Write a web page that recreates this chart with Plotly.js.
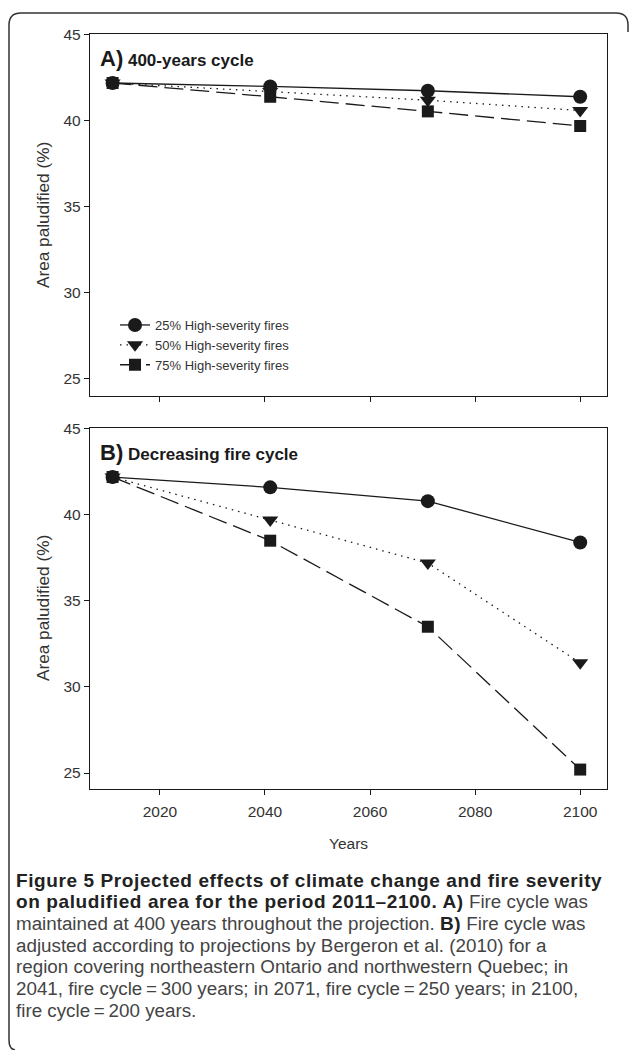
<!DOCTYPE html>
<html>
<head>
<meta charset="utf-8">
<script src="https://cdn.plot.ly/plotly-3.0.1.min.js"></script>
<style>
  html, body { margin: 0; padding: 0; background: #fff; }
  #chart { width: 629px; height: 1050px; }
</style>
</head>
<body>
<div id="chart"></div>
<script>
// ---- data ----
const years = [2011, 2041, 2071, 2100];
const seriesNames = ["25% High-severity fires", "50% High-severity fires", "75% High-severity fires"];
const panelA_25 = [42.2, 42.0, 41.75, 41.4];
const panelA_50 = [42.2, 41.7, 41.2, 40.6];
const panelA_75 = [42.2, 41.4, 40.55, 39.7];
const panelB_25 = [42.2, 41.6, 40.8, 38.4];
const panelB_50 = [42.2, 39.7, 37.2, 31.4];
const panelB_75 = [42.2, 38.5, 33.5, 25.2];
const xTicks = [2020, 2040, 2060, 2080, 2100];
const yTicks = [25, 30, 35, 40, 45];
const panelTitles = ["400-years cycle", "Decreasing fire cycle"];
const panelLetters = ["A)", "B)"];
const yTitle = "Area paludified (%)";
const xTitle = "Years";
const B0 = "<span style='font-weight:bold;font-size:19px;letter-spacing:0.6px;fill:#222'>", B1 = "</span>";
const captionLines = [
  B0 + "Figure 5 Projected effects of climate change and fire severity" + B1,
  B0 + "on paludified area for the period 2011–2100. A)" + B1 + " Fire cycle was",
  "maintained at 400 years throughout the projection. " + B0 + "B)" + B1 + " Fire cycle was",
  "adjusted according to projections by Bergeron et al. (2010) for a",
  "region covering northeastern Ontario and northwestern Quebec; in",
  "2041, fire cycle\u2009=\u2009300 years; in 2071, fire cycle\u2009=\u2009250 years; in 2100,",
  "fire cycle\u2009=\u2009200 years."
];

// ---- styles ----
const W = 629, H = 1050;
const M = {l: 90, r: 22, t: 34, b: 261};
const PW = W - M.l - M.r, PH = H - M.t - M.b;
const px2x = px => (px - M.l) / PW;
const py2y = py => (H - M.b - py) / PH;

const styles = [
  {symbol: "circle", size: 14, dash: "solid"},
  {symbol: "triangle-down", size: 14, dash: "1.5px,5px"},
  {symbol: "square", size: 12, dash: "19px,7px"}
];
const ink = "#1a1a1a";
const sans = "Liberation Sans, Arial, sans-serif";

function mk(y, i, xa, ya, show) {
  return {
    x: years, y: y, type: "scatter", mode: "lines+markers",
    name: seriesNames[i], xaxis: xa, yaxis: ya, showlegend: show,
    line: {color: ink, width: 1.3, dash: styles[i].dash},
    marker: {symbol: styles[i].symbol, size: styles[i].size, color: ink}
  };
}
const dataA = [panelA_25, panelA_50, panelA_75];
const dataB = [panelB_25, panelB_50, panelB_75];
const traces = [];
dataA.forEach((d, i) => traces.push(mk(d, i, "x", "y", true)));
dataB.forEach((d, i) => traces.push(mk(d, i, "x2", "y2", false)));

const axisFont = {family: sans, size: 15.5, color: "#333"};
const xBase = {
  range: [2006.7, 2105.1], tickvals: xTicks, ticks: "outside", ticklen: 5,
  tickwidth: 1, tickcolor: ink, showline: true, linecolor: ink, linewidth: 1.2,
  mirror: true, showgrid: false, zeroline: false, tickfont: axisFont, ticklabelstandoff: 3
};
const yBase = {
  tickvals: yTicks, ticks: "outside", ticklen: 5, tickwidth: 1, tickcolor: ink,
  showline: true, linecolor: ink, linewidth: 1.2, mirror: true, showgrid: false,
  zeroline: false, tickfont: axisFont
};

const annotations = [];
// panel labels
[[0, 58], [1, 452]].forEach(([i, py]) => {
  annotations.push({
    xref: "paper", yref: "paper", x: px2x(98), y: py2y(py),
    xanchor: "left", yanchor: "middle", showarrow: false,
    text: "<b><span style='font-size:22px'>" + panelLetters[i] + "</span> " + panelTitles[i] + "</b>",
    font: {family: sans, size: 17, color: ink}
  });
});
// y titles
[215, 608].forEach(py => {
  annotations.push({
    xref: "paper", yref: "paper", x: px2x(43), y: py2y(py),
    xanchor: "center", yanchor: "middle", showarrow: false, textangle: -90,
    text: yTitle, font: {family: sans, size: 17.2, color: "#333"}
  });
});
// x title
annotations.push({
  xref: "paper", yref: "paper", x: 0.5, y: py2y(843),
  xanchor: "center", yanchor: "middle", showarrow: false,
  text: xTitle, font: {family: sans, size: 15.5, color: "#333"}
});
// caption
captionLines.forEach((t, k) => {
  annotations.push({
    xref: "paper", yref: "paper", x: px2x(15), y: py2y(880 + k * 21.7),
    xanchor: "left", yanchor: "middle", showarrow: false, align: "left", borderpad: 0,
    text: t, font: {family: sans, size: 18.8, color: "#444"}
  });
});

// outer rounded border (pixel -> paper)
const P = (x, y) => px2x(x).toFixed(5) + "," + py2y(y).toFixed(5);
const borderPath = "M" + P(628, 32) + " L" + P(628, 25) + " Q" + P(628, 13) + " " + P(616, 13) +
  " L" + P(21, 13) + " Q" + P(9, 13) + " " + P(9, 25) +
  " L" + P(9, 1040) + " Q" + P(9, 1049) + " " + P(15, 1050);

const layout = {
  width: W, height: H, margin: M,
  paper_bgcolor: "#fff", plot_bgcolor: "#fff",
  font: {family: sans, color: ink},
  xaxis: Object.assign({}, xBase, {anchor: "y", showticklabels: false}),
  yaxis: Object.assign({}, yBase, {domain: [py2y(396), 1], range: [24.0, 45.05]}),
  xaxis2: Object.assign({}, xBase, {anchor: "y2", showticklabels: true}),
  yaxis2: Object.assign({}, yBase, {domain: [0, py2y(428)], range: [24.07, 45.05]}),
  showlegend: true,
  legend: {
    x: px2x(115), y: py2y(310), xanchor: "left", yanchor: "top",
    bgcolor: "rgba(0,0,0,0)", borderwidth: 0, tracegroupgap: 0,
    font: {family: sans, size: 13, color: "#333"}
  },
  annotations: annotations,
  shapes: [{type: "path", xref: "paper", yref: "paper", path: borderPath,
            line: {color: "#333", width: 1.5}, fillcolor: "rgba(0,0,0,0)"}]
};

Plotly.newPlot("chart", traces, layout, {displayModeBar: false, staticPlot: true});
</script>
</body>
</html>
